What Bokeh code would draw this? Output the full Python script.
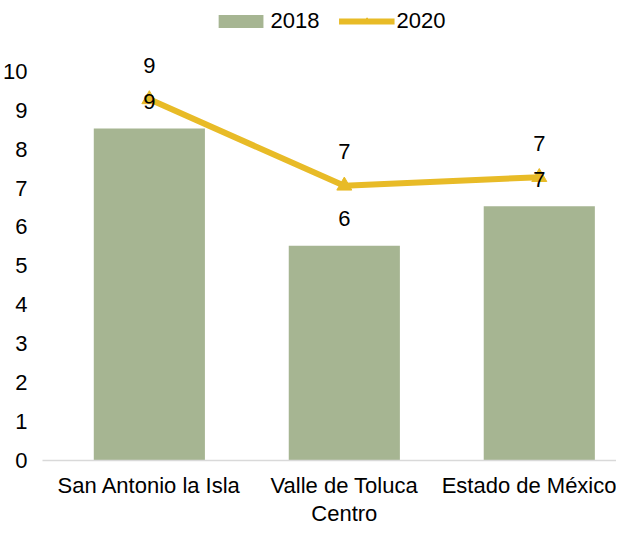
from bokeh.plotting import figure
from bokeh.models import Range1d, FixedTicker, ColumnDataSource, Legend
from bokeh.embed import file_html
from bokeh.resources import INLINE
from bokeh.core.properties import value

categories = ["San Antonio la Isla", "Valle de Toluca\nCentro", "Estado de México"]
values_2018 = [8.53, 5.52, 6.53]
values_2020 = [9.28, 7.06, 7.28]
y_ticks = [0, 1, 2, 3, 4, 5, 6, 7, 8, 9, 10]

BAR_COLOR = "#A6B592"
LINE_COLOR = "#E8BB27"
FONT = "Liberation Sans"
FS = "22px"

xs = list(range(len(categories)))
src = ColumnDataSource(dict(
    x=xs,
    y18=values_2018,
    y20=values_2020,
    t18=[f"{v:.0f}" for v in values_2018],
    t20=[f"{v:.0f}" for v in values_2020],
))

p = figure(width=616, height=529, output_backend="svg", toolbar_location=None,
           x_range=Range1d(-0.548, 2.396), y_range=Range1d(0, 11.82),
           min_border_left=36, min_border_right=0, min_border_top=0,
           min_border_bottom=56)
p.outline_line_color = None
p.xgrid.visible = False
p.ygrid.visible = False
p.background_fill_color = "white"
p.border_fill_color = "white"

bars = p.vbar(x="x", top="y18", width=0.57, source=src, fill_color=BAR_COLOR,
              line_color=None)
ln = p.line(x="x", y="y20", source=src, line_color=LINE_COLOR, line_width=6)
mk = p.scatter(x="x", y="y20", source=src, marker="triangle", size=15,
               fill_color=LINE_COLOR, line_color=LINE_COLOR)

p.text(x="x", y="y18", text="t18", source=src, text_align="center",
       text_baseline="middle", y_offset=-27, text_font=value(FONT),
       text_font_size=FS, text_color="#000000")
p.text(x="x", y="y20", text="t20", source=src, text_align="center",
       text_baseline="middle", y_offset=-34, text_font=value(FONT),
       text_font_size=FS, text_color="#000000")

# axes
xa = p.xaxis[0]
xa.ticker = FixedTicker(ticks=xs)
xa.major_label_overrides = {i: c for i, c in zip(xs, categories)}
xa.axis_line_color = "#D9D9D9"
xa.axis_line_width = 1.5
xa.major_tick_line_color = None
xa.minor_tick_line_color = None
xa.major_label_standoff = 6
xa.major_label_text_font = FONT
xa.major_label_text_font_size = FS
xa.major_label_text_line_height = 1.15
xa.major_label_text_color = "#000000"

ya = p.yaxis[0]
ya.ticker = FixedTicker(ticks=y_ticks)
ya.axis_line_color = None
ya.major_tick_line_color = None
ya.minor_tick_line_color = None
ya.major_label_standoff = 9
ya.major_label_text_font = FONT
ya.major_label_text_font_size = FS
ya.major_label_text_color = "#000000"

legend = Legend(items=[("2018", [bars]), ("2020", [ln, mk])],
                location="top_center", orientation="horizontal",
                glyph_width=56, glyph_height=16, label_standoff=2, spacing=19,
                padding=0, margin=8, border_line_color=None,
                background_fill_alpha=0, label_text_font=FONT,
                label_text_font_size=FS, label_text_color="#000000")
p.add_layout(legend)

open("out.html", "w").write(file_html(p, INLINE))
